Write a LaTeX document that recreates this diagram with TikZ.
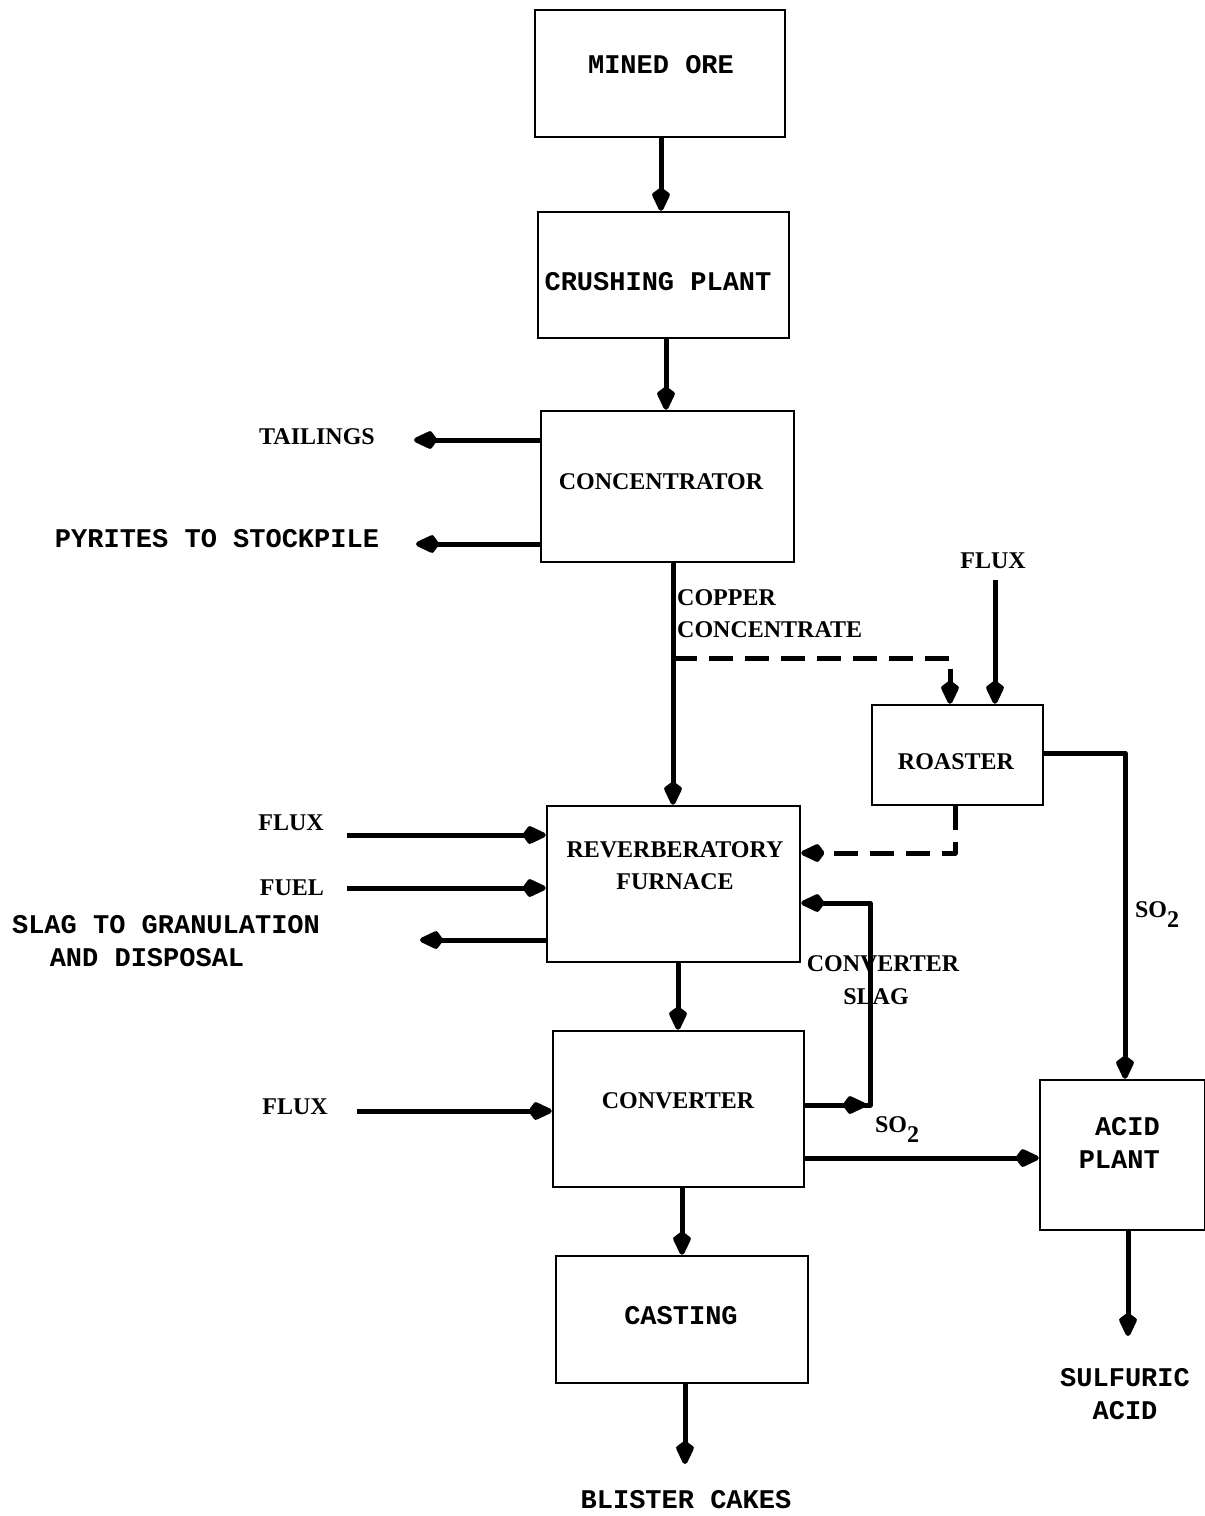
\documentclass[tikz,border=0pt]{standalone}
\usepackage{fontspec}
\setmainfont{Liberation Serif}
\newfontfamily\twfont{Liberation Mono}
\usetikzlibrary{arrows.meta}
\begin{document}
\begin{tikzpicture}[x=1pt,y=-1pt,
  box/.style={draw, line width=2.5pt, inner sep=0pt},
  sf/.style={font=\fontsize{24}{32}\selectfont\bfseries, inner sep=0pt, align=center},
  tf/.style={font=\twfont\fontsize{27}{33}\selectfont\bfseries, inner sep=0pt, align=center},
  flow/.style={line width=5pt, line join=round, -{Kite[length=27pt,width=19pt,inset=7pt,round]}},
  plain/.style={line width=5pt, line join=round},
  dflow/.style={flow, dash pattern=on 24pt off 12pt},
]
\useasboundingbox (0,0) rectangle (1205,1516);
% boxes
\node[box, minimum width=250pt, minimum height=127pt] (ore) at (660,73.5) {};
\node[box, minimum width=251pt, minimum height=126pt] (crush) at (663.5,275) {};
\node[box, minimum width=253pt, minimum height=151pt] (conc) at (667.5,486.5) {};
\node[box, minimum width=171pt, minimum height=100pt] (roast) at (957.5,755) {};
\node[box, minimum width=253pt, minimum height=156pt] (furn) at (673.5,884) {};
\node[box, minimum width=251pt, minimum height=156pt] (conv) at (678.5,1109) {};
\node[box, minimum width=252pt, minimum height=127pt] (cast) at (682,1319.5) {};
\node[box, minimum width=165pt, minimum height=150pt] (acid) at (1122.5,1155) {};
% box texts
\node[tf] (toreT) at (661,65) {MINED ORE};
\node[tf] (tcrushT) at (658,282) {CRUSHING PLANT};
\node[sf] (tconcT) at (661,482) {CONCENTRATOR};
\node[sf] (troastT) at (956,762) {ROASTER};
\node[sf] (tfurnT) at (675,866) {REVERBERATORY\\FURNACE};
\node[sf] (tconvT) at (678,1101) {CONVERTER};
\node[tf] (tcastT) at (681,1316) {CASTING};
\node[tf, align=right, anchor=east] (tacidT) at (1160,1143) {ACID\\PLANT};
% outer labels
\node[sf] (ltail) at (317,437) {TAILINGS};
\node[tf] (lpyr) at (217,539) {PYRITES TO STOCKPILE};
\node[sf, anchor=west, align=left] (lcopper) at (677,614) {COPPER\\CONCENTRATE};
\node[sf] (lflux1) at (993,561) {FLUX};
\node[sf] (lflux2) at (291,823) {FLUX};
\node[sf] (lfuel) at (292,888) {FUEL};
\node[tf] (lslag1) at (166,925) {SLAG TO GRANULATION};
\node[tf] (lslag2) at (147,958) {AND DISPOSAL};
\node[sf] (lflux3) at (295,1107) {FLUX};
\node[sf] (lcslag1) at (883,964) {CONVERTER};
\node[sf] (lcslag2) at (876,997) {SLAG};
\node[sf] (lso2a) at (1157,915) {SO\raisebox{-10pt}{2}};
\node[sf] (lso2b) at (897,1130) {SO\raisebox{-10pt}{2}};
\node[tf] (lsulf) at (1125,1394) {SULFURIC\\ACID};
\node[tf] (lblis) at (686,1500) {BLISTER CAKES};
% coordinates for free ends
\coordinate (split) at (673,658);
\coordinate (tailend) at (414,440);
\coordinate (pyrend) at (416,544);
\coordinate (flux1s) at (995,580);
\coordinate (flux2s) at (347,835);
\coordinate (fuels) at (347,888);
\coordinate (slagend) at (420,940);
\coordinate (flux3s) at (357,1111);
\coordinate (blisend) at (685,1464);
\coordinate (sulfend) at (1128,1336);
% connectors
\draw[flow] (661,0 |- ore.south) -- (661,0 |- crush.north);
\draw[flow] (666,0 |- crush.south) -- (666,0 |- conc.north);
\draw[flow] (conc.west |- 0,440) -- (tailend);
\draw[flow] (conc.west |- 0,544) -- (pyrend);
\draw[flow] (673,0 |- conc.south) -- (673,0 |- furn.north);
\draw[dflow] (split) -- (950,658) -- (950,0 |- roast.north);
\draw[flow] (flux1s) -- (995,0 |- roast.north);
\draw[flow] (roast.east |- 0,753) -- (1125,753) -- (1125,0 |- acid.north);
\draw[dflow] (955,0 |- roast.south) -- (955,853) -- (furn.east |- 0,853);
\draw[flow] (flux2s) -- (furn.west |- flux2s);
\draw[flow] (fuels) -- (furn.west |- fuels);
\draw[flow] (furn.west |- slagend) -- (slagend);
\draw[flow] (678,0 |- furn.south) -- (678,0 |- conv.north);
\draw[plain] (conv.east |- 0,1105) -- (870,1105) -- (870,903) -- (850,903);
\draw[flow] (850,903) -- (furn.east |- 0,903);
\draw[flow] (conv.east |- 0,1105) -- (866,1105);
\draw[flow] (flux3s) -- (conv.west |- flux3s);
\draw[flow] (conv.east |- 0,1158) -- (acid.west |- 0,1158);
\draw[flow] (682,0 |- conv.south) -- (682,0 |- cast.north);
\draw[flow] (685,0 |- cast.south) -- (blisend);
\draw[flow] (1128,0 |- acid.south) -- (sulfend);
\end{tikzpicture}
\end{document}
